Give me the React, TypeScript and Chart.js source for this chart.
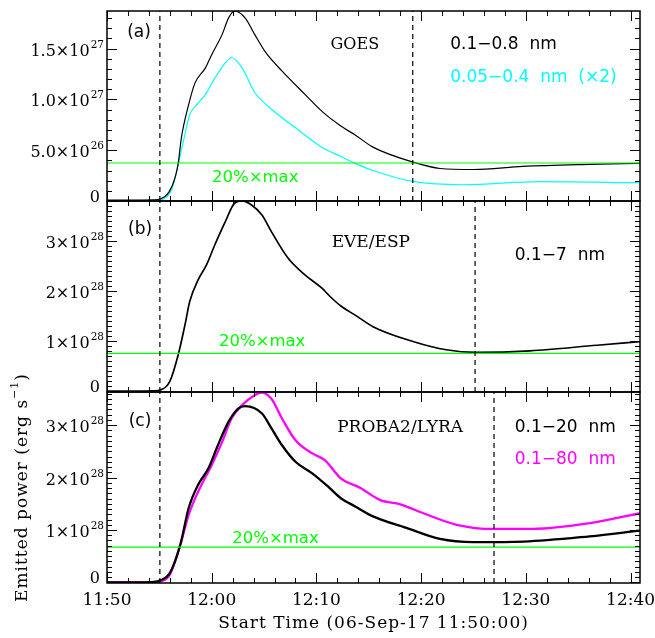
import React, { useEffect, useRef } from 'react';
import { Chart, registerables } from 'chart.js';

Chart.register(...registerables);

// ---------- shared time axis (minutes after 06-Sep-17 11:50:00) ----------
const X_MIN = 0;
const X_MAX = 50.9;
const X_TICK_VALUES = [0, 10, 20, 30, 40, 50];
const X_TICK_LABELS = ['11:50', '12:00', '12:10', '12:20', '12:30', '12:40'];
const X_MINOR_STEP = 2;

// ---------- (a) GOES, values in 1e27 erg/s ----------
const GOES_LONG_T = [0, 2.5, 4.5, 5.1, 5.9, 6.5, 6.8, 7.1, 7.8, 8.4, 9.4, 10.0, 11.0, 11.6, 12.2, 13.2, 14.1, 15.1, 16.7, 18.9, 20.5, 22.3, 23.7, 25.4, 29.3, 31.8, 35.0, 39.7, 46.1, 50.9];
const GOES_LONG_V = [0.01, 0.01, 0.012, 0.02, 0.085, 0.23, 0.37, 0.62, 0.95, 1.16, 1.31, 1.44, 1.64, 1.80, 1.87, 1.80, 1.64, 1.47, 1.28, 1.05, 0.885, 0.74, 0.65, 0.53, 0.38, 0.32, 0.31, 0.34, 0.36, 0.37];
const GOES_SHORT_T = [0, 2.5, 4.5, 5.1, 6.2, 6.8, 7.45, 7.9, 8.6, 9.4, 10.3, 11.3, 11.9, 12.9, 14.1, 15.4, 18.0, 20.5, 22.3, 23.7, 25.4, 29.3, 34.0, 41.4, 50.9];
const GOES_SHORT_V = [0.005, 0.005, 0.006, 0.01, 0.12, 0.36, 0.66, 0.85, 0.95, 1.05, 1.21, 1.36, 1.41, 1.31, 1.07, 0.93, 0.72, 0.53, 0.44, 0.37, 0.30, 0.19, 0.16, 0.19, 0.18];
const GOES_Y_TICKS = [0, 0.5, 1.0, 1.5];
const GOES_Y_LABELS: [string, string][] = [['0', ''], ['5.0×10', '26'], ['1.0×10', '27'], ['1.5×10', '27']];
const GOES_TIMES = [5.05, 29.2];

// ---------- (b) EVE/ESP, values in 1e28 erg/s ----------
const EVE_T = [0, 2.5, 4.5, 5.1, 6.0, 6.8, 7.45, 7.9, 8.7, 9.5, 10.3, 11.3, 12.2, 12.9, 13.8, 14.8, 15.7, 17.3, 18.9, 20.5, 21.3, 22.4, 23.7, 25.4, 29.3, 32.4, 35.2, 40.4, 46.8, 50.9];
const EVE_V = [0.01, 0.01, 0.015, 0.03, 0.2, 0.73, 1.33, 1.79, 2.22, 2.52, 2.92, 3.38, 3.75, 3.79, 3.71, 3.51, 3.18, 2.65, 2.32, 2.06, 1.89, 1.69, 1.52, 1.29, 0.99, 0.83, 0.78, 0.81, 0.92, 0.99];
const EVE_Y_TICKS = [0, 1, 2, 3];
const EVE_Y_LABELS: [string, string][] = [['0', ''], ['1×10', '28'], ['2×10', '28'], ['3×10', '28']];
const EVE_TIMES = [5.05, 35.15];

// ---------- (c) PROBA2/LYRA, values in 1e28 erg/s ----------
const LYRA_20_T = [0, 2.5, 4.5, 5.1, 6.0, 7.0, 7.8, 8.7, 9.7, 10.6, 11.6, 12.5, 13.2, 14.8, 15.7, 16.7, 18.0, 19.6, 21.1, 22.3, 23.7, 25.4, 28.6, 31.8, 35.0, 39.8, 46.1, 50.9];
const LYRA_20_V = [0.0, 0.0, 0.01, 0.04, 0.18, 0.72, 1.42, 1.86, 2.18, 2.62, 3.06, 3.31, 3.36, 3.22, 2.94, 2.62, 2.30, 2.08, 1.83, 1.61, 1.45, 1.26, 1.04, 0.83, 0.77, 0.78, 0.88, 0.99];
const LYRA_80_T = [0, 2.5, 4.5, 5.1, 6.0, 7.0, 7.8, 8.7, 10.0, 11.0, 11.9, 12.9, 14.1, 14.8, 15.7, 16.7, 18.0, 19.6, 20.8, 22.3, 24.2, 26.1, 28.0, 30.2, 33.4, 36.9, 40.7, 46.1, 50.9];
const LYRA_80_V = [0.0, 0.0, 0.005, 0.02, 0.15, 0.72, 1.29, 1.73, 2.24, 2.68, 3.13, 3.38, 3.57, 3.62, 3.50, 3.13, 2.71, 2.46, 2.33, 1.99, 1.80, 1.57, 1.49, 1.32, 1.10, 1.02, 1.02, 1.13, 1.32];
const LYRA_Y_TICKS = [0, 1, 2, 3];
const LYRA_Y_LABELS: [string, string][] = [['0', ''], ['1×10', '28'], ['2×10', '28'], ['3×10', '28']];
const LYRA_TIMES = [5.05, 36.96];

// ---------- styling ----------
const W = 655;
const H = 638;
const SERIF = '"DejaVu Serif", serif';
const SANS = '"DejaVu Sans", sans-serif';
const GREEN = '#00ff00';
const CYAN = '#00ffff';
const MAGENTA = '#ff00ff';

type Txt = { text: string; color: string; font: string; fx: number; fy: number; align: CanvasTextAlign };
type Series = { t: number[]; v: number[]; color: string; width: number };
type Panel = {
  top: number; bottom: number; yMin: number; yMax: number;
  yTicks: number[]; yLabels: [string, string][]; yMinor: number;
  series: Series[]; times: number[]; levelFrom: number[]; texts: Txt[]; bottomAxis: boolean;
};

const PANELS: Panel[] = [
  {
    top: 11, bottom: 201, yMin: 0, yMax: 1.87, yTicks: GOES_Y_TICKS, yLabels: GOES_Y_LABELS, yMinor: 0.1,
    series: [
      { t: GOES_LONG_T, v: GOES_LONG_V, color: '#000000', width: 1.2 },
      { t: GOES_SHORT_T, v: GOES_SHORT_V, color: CYAN, width: 1.2 },
    ],
    times: GOES_TIMES, levelFrom: GOES_LONG_V, bottomAxis: false,
    texts: [
      { text: '(a)', color: '#000', font: `17px ${SANS}`, fx: 0.06, fy: 0.111, align: 'center' },
      { text: 'GOES', color: '#000', font: `16px ${SERIF}`, fx: 0.465, fy: 0.179, align: 'center' },
      { text: '0.1−0.8  nm', color: '#000', font: `17px ${SANS}`, fx: 0.644, fy: 0.179, align: 'left' },
      { text: '0.05−0.4  nm  (×2)', color: CYAN, font: `17px ${SANS}`, fx: 0.644, fy: 0.353, align: 'left' },
      { text: '20%×max', color: GREEN, font: `16.5px ${SANS}`, fx: 0.197, fy: 0.879, align: 'left' },
    ],
  },
  {
    top: 201, bottom: 392, yMin: -0.01, yMax: 3.79, yTicks: EVE_Y_TICKS, yLabels: EVE_Y_LABELS, yMinor: 0.1,
    series: [{ t: EVE_T, v: EVE_V, color: '#000000', width: 1.7 }],
    times: EVE_TIMES, levelFrom: EVE_V, bottomAxis: false,
    texts: [
      { text: '(b)', color: '#000', font: `17px ${SANS}`, fx: 0.062, fy: 0.152, align: 'center' },
      { text: 'EVE/ESP', color: '#000', font: `17px ${SERIF}`, fx: 0.495, fy: 0.22, align: 'center' },
      { text: '0.1−7  nm', color: '#000', font: `17px ${SANS}`, fx: 0.765, fy: 0.288, align: 'left' },
      { text: '20%×max', color: GREEN, font: `16.5px ${SANS}`, fx: 0.21, fy: 0.738, align: 'left' },
    ],
  },
  {
    top: 392, bottom: 583, yMin: -0.01, yMax: 3.63, yTicks: LYRA_Y_TICKS, yLabels: LYRA_Y_LABELS, yMinor: 0.1,
    series: [
      { t: LYRA_20_T, v: LYRA_20_V, color: '#000000', width: 2.3 },
      { t: LYRA_80_T, v: LYRA_80_V, color: MAGENTA, width: 2.3 },
    ],
    times: LYRA_TIMES, levelFrom: LYRA_20_V, bottomAxis: true,
    texts: [
      { text: '(c)', color: '#000', font: `17px ${SANS}`, fx: 0.062, fy: 0.157, align: 'center' },
      { text: 'PROBA2/LYRA', color: '#000', font: `17px ${SERIF}`, fx: 0.55, fy: 0.188, align: 'center' },
      { text: '0.1−20  nm', color: '#000', font: `17px ${SANS}`, fx: 0.765, fy: 0.188, align: 'left' },
      { text: '0.1−80  nm', color: MAGENTA, font: `17px ${SANS}`, fx: 0.765, fy: 0.356, align: 'left' },
      { text: '20%×max', color: GREEN, font: `16.5px ${SANS}`, fx: 0.235, fy: 0.77, align: 'left' },
    ],
  },
];

const LEFT = 107;
const RIGHT = 640;

function makePlugin(p: Panel) {
  return {
    id: 'idlFrame',
    afterDatasetsDraw(chart: any) {
      const ctx: any = chart.ctx;
      const xs = chart.scales.x;
      const ys = chart.scales.y;
      const a = chart.chartArea;
      ctx.save();
      // frame
      ctx.strokeStyle = '#000';
      ctx.lineWidth = 1.5;
      ctx.strokeRect(a.left, a.top, a.right - a.left, a.bottom - a.top);
      ctx.lineWidth = 1;
      // x ticks
      for (let m = X_MIN; m <= X_MAX + 1e-6; m += X_MINOR_STEP) {
        const px = Math.round(xs.getPixelForValue(m)) + 0.5;
        const major = X_TICK_VALUES.some((v) => Math.abs(v - m) < 1e-6);
        const len = major ? 10 : 5;
        ctx.beginPath();
        ctx.moveTo(px, a.bottom); ctx.lineTo(px, a.bottom - len);
        ctx.moveTo(px, a.top); ctx.lineTo(px, a.top + len);
        ctx.stroke();
      }
      // y ticks
      const n0 = Math.ceil(p.yMin / p.yMinor - 1e-6);
      const n1 = Math.floor(p.yMax / p.yMinor + 1e-6);
      for (let n = n0; n <= n1; n++) {
        const v = n * p.yMinor;
        const py = Math.round(ys.getPixelForValue(v)) + 0.5;
        const major = p.yTicks.some((t) => Math.abs(t - v) < 1e-6);
        const len = major ? 10 : 5;
        ctx.beginPath();
        ctx.moveTo(a.left, py); ctx.lineTo(a.left + len, py);
        ctx.moveTo(a.right, py); ctx.lineTo(a.right - len, py);
        ctx.stroke();
      }
      // y tick labels
      ctx.fillStyle = '#000';
      p.yTicks.forEach((t, i) => {
        const [mant, exp] = p.yLabels[i];
        const py = ys.getPixelForValue(t);
        const rx = a.left - 3;
        ctx.font = `16px ${SERIF}`;
        const wm = ctx.measureText(mant).width;
        let we = 0;
        if (exp) {
          ctx.font = `10.5px ${SERIF}`;
          we = ctx.measureText(exp).width;
        }
        ctx.textAlign = 'left';
        ctx.textBaseline = 'alphabetic';
        ctx.font = `16px ${SERIF}`;
        if (exp) {
          ctx.fillText(mant, rx - wm - we - 1, py + 7);
          ctx.font = `10.5px ${SERIF}`;
          ctx.fillText(exp, rx - we, py - 1);
        } else {
          ctx.fillText(mant, rx - wm - 4, py + 1);
        }
      });
      // annotation texts
      p.texts.forEach((tx) => {
        ctx.font = tx.font;
        ctx.fillStyle = tx.color;
        ctx.textAlign = tx.align;
        ctx.textBaseline = 'middle';
        ctx.fillText(tx.text, a.left + tx.fx * (a.right - a.left), a.top + tx.fy * (a.bottom - a.top));
      });
      if (p.bottomAxis) {
        ctx.fillStyle = '#000';
        ctx.font = `17px ${SERIF}`;
        ctx.textAlign = 'center';
        ctx.textBaseline = 'middle';
        X_TICK_VALUES.forEach((v, i) => {
          ctx.fillText(X_TICK_LABELS[i], xs.getPixelForValue(v), a.bottom + 18);
        });
        ctx.letterSpacing = '1px';
        ctx.fillText('Start Time (06-Sep-17 11:50:00)', (a.left + a.right) / 2, a.bottom + 41);
        // y title, rotated
        ctx.save();
        ctx.translate(21, (a.top + a.bottom) / 2);
        ctx.rotate(-Math.PI / 2);
        const main = 'Emitted power (erg s';
        ctx.font = `17px ${SERIF}`;
        const w1 = ctx.measureText(main).width;
        ctx.font = `11px ${SERIF}`;
        const w2 = ctx.measureText('−1').width;
        ctx.font = `17px ${SERIF}`;
        const w3 = ctx.measureText(')').width;
        const x0 = -(w1 + w2 + w3) / 2;
        ctx.textAlign = 'left';
        ctx.textBaseline = 'alphabetic';
        ctx.fillText(main, x0, 6);
        ctx.font = `11px ${SERIF}`;
        ctx.fillText('−1', x0 + w1, -3);
        ctx.font = `17px ${SERIF}`;
        ctx.fillText(')', x0 + w1 + w2, 6);
        ctx.restore();
        ctx.letterSpacing = '0px';
      }
      ctx.restore();
    },
  };
}

function buildConfig(p: Panel): any {
  const level = 0.2 * Math.max(...p.levelFrom);
  const datasets: any[] = [];
  p.times.forEach((t) => {
    datasets.push({
      data: [{ x: t, y: p.yMin }, { x: t, y: p.yMax }],
      borderColor: '#000', borderWidth: 1.2, borderDash: [5, 4], pointRadius: 0, fill: false,
    });
  });
  datasets.push({
    data: [{ x: X_MIN, y: level }, { x: X_MAX, y: level }],
    borderColor: GREEN, borderWidth: 1.2, pointRadius: 0, fill: false,
  });
  p.series.forEach((s) => {
    datasets.push({
      data: s.t.map((t, i) => ({ x: t, y: s.v[i] })),
      borderColor: s.color, borderWidth: s.width, pointRadius: 0, fill: false,
      cubicInterpolationMode: 'monotone',
    });
  });
  return {
    type: 'line',
    data: { datasets },
    options: {
      responsive: false,
      animation: false,
      events: [],
      layout: { padding: { left: LEFT, right: W - RIGHT, top: p.top, bottom: H - p.bottom } },
      plugins: { legend: { display: false }, tooltip: { enabled: false } },
      scales: {
        x: { type: 'linear', min: X_MIN, max: X_MAX, display: false },
        y: { type: 'linear', min: p.yMin, max: p.yMax, display: false },
      },
    },
    plugins: [makePlugin(p)],
  };
}

function PanelCanvas({ panel }: { panel: Panel }) {
  const ref = useRef<HTMLCanvasElement | null>(null);
  useEffect(() => {
    if (!ref.current) return;
    const chart = new Chart(ref.current, buildConfig(panel));
    return () => chart.destroy();
  }, [panel]);
  return (
    <canvas
      ref={ref}
      width={W}
      height={H}
      style={{ position: 'absolute', left: 0, top: 0, width: W, height: H, display: 'block' }}
    />
  );
}

export default function App() {
  return (
    <div style={{ position: 'fixed', left: 0, top: 0, width: W, height: H, background: '#fff' }}>
      {PANELS.map((p, i) => (
        <PanelCanvas key={i} panel={p} />
      ))}
    </div>
  );
}
